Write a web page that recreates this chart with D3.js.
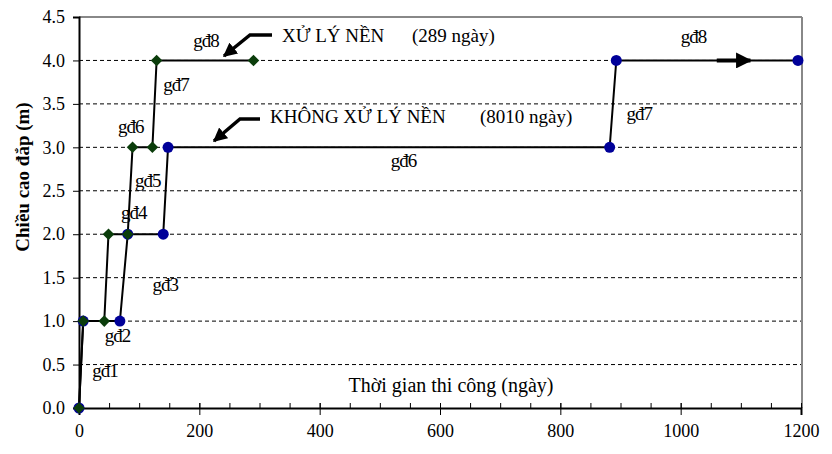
<!DOCTYPE html>
<html><head><meta charset="utf-8">
<script src="https://cdn.jsdelivr.net/npm/d3@7"></script>
<style>body{margin:0;background:#fff}svg{display:block}text{font-family:"Liberation Serif","Times New Roman",serif;fill:#000}</style>
</head><body><svg id="c" width="832" height="454"></svg>
<script>
const xTicks=[0,200,400,600,800,1000,1200];
const yTicks=[0,0.5,1,1.5,2,2.5,3,3.5,4,4.5];
const treatedDays=[0,7,42,49,81,89,122,129,290];
const treatedHeight=[0,1,1,2,2,3,3,4,4];
const untreatedDays=[0,7,68,81,140,148,882,893,1195];
const untreatedHeight=[0,1,1,2,2,3,3,4,4];
const stageNames=["gđ1","gđ2","gđ3","gđ4","gđ5","gđ6","gđ7","gđ8","gđ6","gđ7","gđ8"];
const stageDays=[22,43,122,70,93,65,140,190,518,910,1000];
const stageHeights=[0.36,0.76,1.35,2.17,2.54,3.16,3.65,4.15,2.77,3.32,4.2];
const xTitle="Thời gian thi công (ngày)";
const yTitle="Chiều cao đắp (m)";

const svg=d3.select("#c");
const L=79,R=802,T=17,B=408;
const x=d3.scaleLinear().domain([0,1200]).range([L,R-1]);
const y=d3.scaleLinear().domain([0,4.5]).range([B,T]);

svg.append("g").selectAll("line").data(yTicks.filter(v=>v>0&&v<4.5)).join("line")
 .attr("x1",L).attr("x2",R).attr("y1",d=>y(d)).attr("y2",d=>y(d))
 .attr("stroke","#000").attr("stroke-width",1).attr("stroke-dasharray","4,3");
svg.append("line").attr("x1",L).attr("x2",R).attr("y1",T).attr("y2",T).attr("stroke","#888").attr("stroke-width",2);
svg.append("line").attr("x1",R).attr("x2",R).attr("y1",T).attr("y2",B).attr("stroke","#888").attr("stroke-width",2);

const ya=svg.append("g").attr("transform",`translate(${L},0)`)
 .call(d3.axisLeft(y).tickValues(yTicks).tickFormat(d3.format(".1f")).tickSize(6).tickPadding(8));
ya.select(".domain").attr("stroke","#000").attr("stroke-width",2);
ya.selectAll("text").attr("font-size",18).style("font-family","Liberation Serif");
svg.append("g").attr("transform",`translate(0,${B})`)
 .call(d3.axisTop(x).tickValues(d3.range(0,1201,50)).tickFormat("").tickSize(5))
 .call(g=>g.select(".domain").remove());
const xa=svg.append("g").attr("transform",`translate(0,${B})`)
 .call(d3.axisBottom(x).tickValues(xTicks).tickFormat(d3.format("d")).tickSize(7).tickPadding(9));
xa.select(".domain").attr("stroke","#000").attr("stroke-width",2);
xa.selectAll(".tick line").attr("y1",-5);
xa.selectAll("text").attr("font-size",18).style("font-family","Liberation Serif");

const line=d3.line().x(d=>x(d[0])).y(d=>y(d[1]));
const un=untreatedDays.map((d,i)=>[d,untreatedHeight[i]]);
const tr=treatedDays.map((d,i)=>[d,treatedHeight[i]]);
svg.append("path").attr("d",line(un)).attr("fill","none").attr("stroke","#000").attr("stroke-width",2);
svg.append("path").attr("d",line(tr)).attr("fill","none").attr("stroke","#000").attr("stroke-width",2);
svg.append("g").selectAll("circle").data(un).join("circle")
 .attr("cx",d=>x(d[0])).attr("cy",d=>y(d[1])).attr("r",5.5).attr("fill","#000099");
svg.append("g").selectAll("path").data(tr).join("path")
 .attr("d",d3.symbol(d3.symbolDiamond2,85))
 .attr("transform",d=>`translate(${x(d[0])},${y(d[1])})`).attr("fill","#0b3d0b");

svg.append("g").selectAll("text").data(stageNames).join("text")
 .attr("x",(d,i)=>x(stageDays[i])).attr("y",(d,i)=>y(stageHeights[i]))
 .attr("font-size",19).attr("letter-spacing","-1").text(d=>d);

const defs=svg.append("defs");
defs.append("marker").attr("id","ah").attr("viewBox","0 0 10 10").attr("refX",9).attr("refY",5)
 .attr("markerWidth",4).attr("markerHeight",4).attr("orient","auto")
 .append("path").attr("d","M0,0L10,5L0,10z").attr("fill","#000");
function arrow(pts,w){svg.append("path").attr("d",d3.line()(pts)).attr("fill","none")
 .attr("stroke","#000").attr("stroke-width",w).attr("marker-end","url(#ah)");}
arrow([[272,35],[250,35],[224,56]],3.5);
arrow([[260,119],[240,119],[214,141]],3.5);
arrow([[x(1060),y(4)],[x(1116),y(4)]],4);

svg.append("text").attr("x",282).attr("y",42).attr("font-size",19).text("XỬ LÝ NỀN");
svg.append("text").attr("x",412).attr("y",42).attr("font-size",19).text("(289 ngày)");
svg.append("text").attr("x",270).attr("y",123).attr("font-size",19).text("KHÔNG XỬ LÝ NỀN");
svg.append("text").attr("x",480).attr("y",123).attr("font-size",19).text("(8010 ngày)");

svg.append("text").attr("x",451).attr("y",392).attr("text-anchor","middle").attr("font-size",20).text(xTitle);
svg.append("text").attr("transform","translate(29,177) rotate(-90)").attr("text-anchor","middle")
 .attr("font-size",19).attr("font-weight","bold").text(yTitle);
</script></body></html>
